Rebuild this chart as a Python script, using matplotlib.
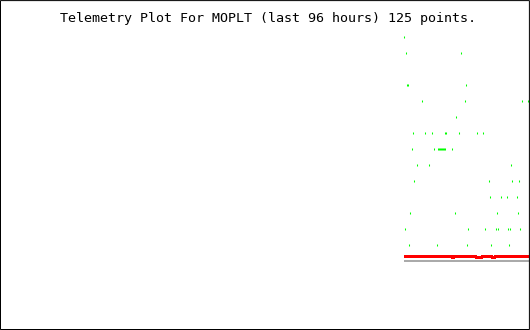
import numpy as np
import matplotlib
matplotlib.use('Agg')
import matplotlib.pyplot as plt
from matplotlib.patches import Rectangle

# green telemetry samples: (sample index, level)
green_idx = [0,
             2, 57,
             3, 4, 62,
             18, 61, 118, 124,
             52,
             9, 21, 28, 41, 42, 55, 73, 79,
             8, 30, 34, 35, 36, 37, 38, 39, 40, 41, 48,
             13, 25, 107,
             10, 85, 108, 115,
             86, 97, 103, 113,
             6, 51, 93, 114,
             1, 64, 81, 92, 94, 104, 106, 116,
             5, 33, 63, 87, 105]
green_lvl = [13,
             12, 12,
             10, 10, 10,
             9, 9, 9, 9,
             8,
             7, 7, 7, 7, 7, 7, 7, 7,
             6, 6, 6, 6, 6, 6, 6, 6, 6, 6, 6,
             5, 5, 5,
             4, 4, 4, 4,
             3, 3, 3, 3,
             2, 2, 2, 2,
             1, 1, 1, 1, 1, 1, 1, 1,
             0, 0, 0, 0, 0]

# red trace (125 points) and grey limit
red_idx = list(range(126))
red_lvl = [-0.75] * 126
for i in [49, 73, 74, 75, 76, 77, 89, 90]:
    red_lvl[i] = -0.81
limit_idx = [0, 125]
limit_lvl = [-1.02, -1.02]

fig = plt.figure(figsize=(5.3, 3.3), dpi=100, facecolor='white')
ax = fig.add_axes([0, 0, 1, 1])
ax.set_xlim(-404, 126)
ax.set_ylim(-5.33, 15.29)
ax.axis('off')

ax.plot(limit_idx, limit_lvl, color='#aaaaaa', lw=1.44, solid_capstyle='butt',
        antialiased=False)
ax.plot(red_idx, red_lvl, color='#ff0000', lw=1.44, solid_capstyle='butt',
        antialiased=False)
ax.plot(green_idx, green_lvl, ls='none', marker='|', ms=1.5, mew=0.75,
        color='#00ff00', antialiased=False)

# 1px black frame
fig.patches.append(Rectangle((0.5 / 530, 0.5 / 330), 528.9 / 530, 328.9 / 330,
                             transform=fig.transFigure, fill=False,
                             edgecolor='black', lw=0.72, snap=False,
                             zorder=5))

fig.text(267.5 / 530, 1 - 18.5 / 330,
         'Telemetry Plot For MOPLT (last 96 hours) 125 points.',
         family='DejaVu Sans Mono', fontsize=9.6, ha='center', va='center')

fig.savefig('out.png', dpi=100, facecolor='white')
